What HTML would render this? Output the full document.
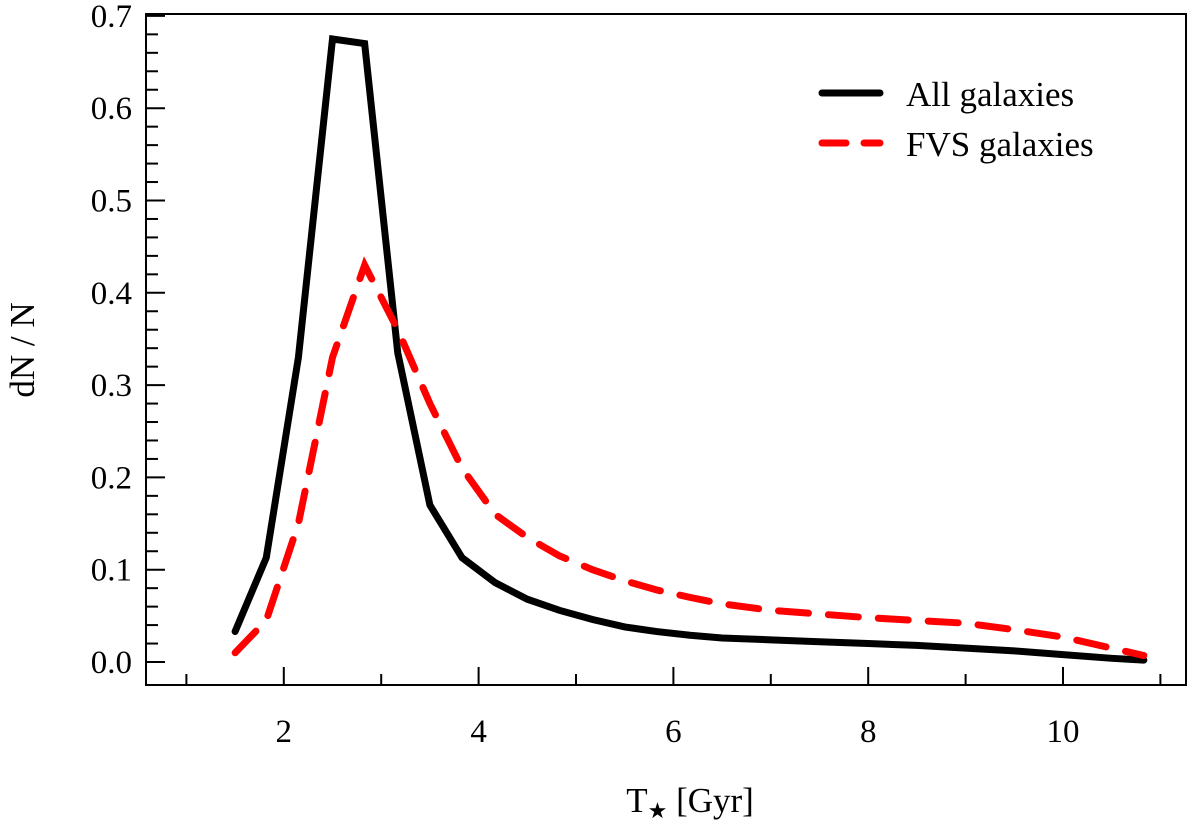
<!DOCTYPE html>
<html><head><meta charset="utf-8"><style>
body{margin:0;background:#fff}
svg, svg text{font-family:"Liberation Serif","DejaVu Serif",serif !important;fill:#000}
</style></head><body>
<svg width="1200" height="822" font-family="Liberation Serif, DejaVu Serif, serif">
<g id="axes"></g>
<g id="series"></g>
<g>
<line x1="822" y1="93" x2="880" y2="93" stroke="#000" stroke-width="7" stroke-linecap="round"/>
<text x="906" y="106" font-size="35" font-family="Liberation Serif, serif">All galaxies</text>
<line x1="822" y1="143" x2="880" y2="143" stroke="#f00" stroke-width="7" stroke-dasharray="24 18" stroke-linecap="round"/>
<text x="906" y="156" font-size="35" font-family="Liberation Serif, serif">FVS galaxies</text>
</g>
<text x="690" y="812" font-size="35" font-family="Liberation Serif, serif" text-anchor="middle">T<tspan font-family="DejaVu Sans" font-size="22" dy="6">★</tspan><tspan dy="-6"> [Gyr]</tspan></text>
<text transform="translate(34,350) rotate(-90)" font-size="35" font-family="Liberation Serif, serif" text-anchor="middle">dN / N</text>
</svg>
<script>
const xTicks=[2,4,6,8,10];
const yTicks=[0.0,0.1,0.2,0.3,0.4,0.5,0.6,0.7];
const xAll=[1.5,1.82,2.15,2.5,2.83,3.17,3.5,3.83,4.17,4.5,4.83,5.17,5.5,5.83,6.17,6.5,7,7.5,8,8.5,9,9.5,10,10.5,10.83];
const yAll=[0.033,0.113,0.33,0.675,0.67,0.335,0.17,0.113,0.086,0.068,0.056,0.046,0.038,0.033,0.029,0.026,0.024,0.022,0.02,0.018,0.015,0.012,0.008,0.004,0.002];
const xFvs=[1.5,1.82,2.15,2.5,2.83,3.17,3.5,3.83,4.17,4.5,4.83,5.17,5.5,5.83,6.17,6.5,7,7.5,8,8.5,9,9.5,10,10.5,10.83];
const yFvs=[0.01,0.045,0.15,0.33,0.43,0.36,0.28,0.21,0.16,0.135,0.115,0.1,0.088,0.078,0.07,0.063,0.056,0.052,0.048,0.045,0.042,0.035,0.027,0.015,0.007];
const L=146,R=1186,T=14,B=685;
const sx=v=>89+v*97.4;
const sy=v=>662-v*923;
const NS='http://www.w3.org/2000/svg';
const ax=document.getElementById('axes'),se=document.getElementById('series');
function mk(tag,at,par){const e=document.createElementNS(NS,tag);for(const k in at)e.setAttribute(k,at[k]);par.appendChild(e);return e;}
const fr=mk('rect',{x:L,y:T,width:R-L,height:B-T,fill:'none',stroke:'#000','stroke-width':2},ax);


for(let v=0;v<=0.7001;v+=0.02){const y=sy(v);const maj=Math.abs(v*10-Math.round(v*10))<1e-6;
const t=mk('line',{x1:L,x2:L+(maj?19:12),y1:y,y2:y,stroke:'#000','stroke-width':2},ax);

}
yTicks.forEach(v=>{const t=mk('text',{x:L-14,y:sy(v)+11,'font-size':33,'font-family':'Liberation Serif, serif','text-anchor':'end'},ax);t.textContent=v.toFixed(1);

});
for(let v=1;v<=11;v++){const x=sx(v);const maj=v%2==0;
const t=mk('line',{x1:x,x2:x,y1:B,y2:B-(maj?18:11),stroke:'#000','stroke-width':2},ax);

}
xTicks.forEach(v=>{const t=mk('text',{x:sx(v),y:B+57,'font-size':33,'font-family':'Liberation Serif, serif','text-anchor':'middle'},ax);t.textContent=v;

});
const pAll=mk('polyline',{points:xAll.map((x,i)=>sx(x)+','+sy(yAll[i])).join(' '),fill:'none',stroke:'#000','stroke-width':7,'stroke-linejoin':'miter','stroke-linecap':'round'},se);


const pF=mk('polyline',{points:xFvs.map((x,i)=>sx(x)+','+sy(yFvs[i])).join(' '),fill:'none',stroke:'#f00','stroke-width':7,'stroke-dasharray':'30 20','stroke-linecap':'round'},se);


</script>
</body></html>
